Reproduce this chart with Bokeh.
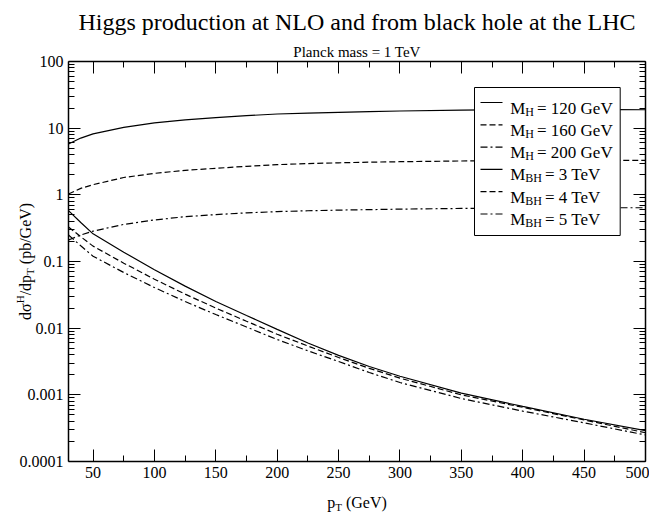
import math
from bokeh.plotting import figure
from bokeh.layouts import column
from bokeh.models import (Range1d, LogAxis, LinearAxis, FixedTicker, Label,
                          BoxAnnotation, Arrow, CustomJSTickFormatter)
from bokeh.embed import file_html
from bokeh.resources import INLINE

# ---------------- data ----------------
pt = [30, 40, 50, 75, 100, 125, 150, 175, 200, 225, 250, 275, 300, 350, 400, 450, 500]
higgs_mh120 = [5.8, 7.1, 8.2, 10.3, 12.0, 13.3, 14.4, 15.4, 16.3, 16.85, 17.3, 17.7, 18.1, 18.7, 19.0, 19.1, 18.9]
higgs_mh160 = [1.03, 1.25, 1.42, 1.82, 2.10, 2.33, 2.50, 2.68, 2.84, 2.94, 3.02, 3.09, 3.14, 3.22, 3.27, 3.29, 3.28]
higgs_mh200 = [0.21, 0.25, 0.285, 0.36, 0.42, 0.47, 0.505, 0.537, 0.56, 0.577, 0.59, 0.60, 0.61, 0.625, 0.635, 0.64, 0.64]
bh_3tev = [0.58, 0.385, 0.26, 0.138, 0.075, 0.0427, 0.0251, 0.0155, 0.0096, 0.0060, 0.0039, 0.00266, 0.0019, 0.00106, 0.00067, 0.00043, 0.00029]
bh_4tev = [0.33, 0.235, 0.17, 0.0944, 0.0543, 0.0324, 0.020, 0.0127, 0.0081, 0.0054, 0.00363, 0.0025, 0.00178, 0.0010, 0.00065, 0.00042, 0.00027]
bh_5tev = [0.25, 0.172, 0.12, 0.0684, 0.0407, 0.0251, 0.016, 0.0104, 0.00676, 0.00457, 0.00316, 0.00216, 0.00153, 0.00088, 0.00057, 0.00038, 0.00025]

x_major = [50, 100, 150, 200, 250, 300, 350, 400, 450, 500]
x_minor = [75, 125, 175, 225, 275, 325, 375, 425, 475]
y_major = [1e-4, 1e-3, 1e-2, 1e-1, 1.0, 10.0, 100.0]
y_labels = ["0.0001", "0.001", "0.01", "0.1", "1", "10", "100"]
y_minor = [m * 10.0 ** k for k in range(-4, 2) for m in range(2, 10)]

title_text = "Higgs production at NLO and from black hole at the LHC"
subtitle_text = "Planck mass = 1 TeV"
legend_entries = [("H", "= 120 GeV", "solid"), ("H", "= 160 GeV", "dashed"),
                  ("H", "= 200 GeV", "dashdot"), ("BH", "= 3 TeV", "solid"),
                  ("BH", "= 4 TeV", "dashed"), ("BH", "= 5 TeV", "dashdot")]

DASH = {"solid": "solid", "dashed": "6 3", "dashdot": "7 3 2 3"}
FONT = "Liberation Serif"

# Times metrics (1/1000 em)
W = {' ': 250, '(': 333, ')': 333, '/': 278, '=': 564, '.': 250,
     'B': 667, 'C': 667, 'G': 722, 'H': 722, 'L': 611, 'M': 889, 'N': 722,
     'O': 722, 'P': 556, 'T': 611, 'V': 722, 'a': 444, 'b': 500, 'c': 444,
     'd': 500, 'e': 444, 'f': 333, 'g': 500, 'h': 500, 'i': 278, 'k': 500,
     'l': 278, 'm': 778, 'n': 500, 'o': 500, 'p': 500, 'r': 333, 's': 389,
     't': 278, 'u': 500, 'σ': 550}


def tw(s, size):
    return sum(W.get(c, 500) for c in s) * size / 1000.0


TW, TH = 649, 513
BL, BR, BT, BB = 68, 4, 61, 52
FW, FH = TW - BL - BR, TH - BT - BB

# ---------------- main figure ----------------
p = figure(width=TW, height=TH, output_backend="svg", toolbar_location=None,
           title=None, y_axis_type="log",
           x_range=Range1d(30, 500), y_range=Range1d(1e-4, 100),
           min_border_left=BL, min_border_right=BR, min_border_top=BT,
           min_border_bottom=BB)
p.frame_align = False
p.grid.visible = False
p.outline_line_color = None
p.background_fill_color = "white"
p.border_fill_color = "white"

xt = FixedTicker(ticks=x_major, minor_ticks=x_minor)
yt = FixedTicker(ticks=y_major, minor_ticks=y_minor)

blank = CustomJSTickFormatter(code="return ''")
p.add_layout(LinearAxis(ticker=xt, formatter=blank), "above")
p.add_layout(LogAxis(ticker=yt, formatter=blank), "right")

for ax in p.xaxis:
    ax.ticker = xt
for ax in p.yaxis:
    ax.ticker = yt

for ax in list(p.xaxis) + list(p.yaxis):
    ax.major_tick_in = 12
    ax.major_tick_out = 0
    ax.minor_tick_in = 6
    ax.minor_tick_out = 0
    ax.axis_line_width = 1.5
    ax.axis_line_color = "black"
    ax.major_tick_line_color = "black"
    ax.minor_tick_line_color = "black"
    ax.major_tick_line_width = 1
    ax.minor_tick_line_width = 1
    ax.major_label_text_font = FONT
    ax.major_label_text_font_size = "16px"
    ax.major_label_text_color = "black"

p.below[0].major_label_standoff = 5
p.left[0].major_label_standoff = 5
p.left[0].major_label_overrides = {v: s for v, s in zip(y_major, y_labels)}
for ax in (p.above[0], p.right[0]):
    ax.major_label_standoff = 0

series = [(higgs_mh120, "solid"), (higgs_mh160, "dashed"), (higgs_mh200, "dashdot"),
          (bh_3tev, "solid"), (bh_4tev, "dashed"), (bh_5tev, "dashdot")]
for ys, st in series:
    p.line(pt, ys, line_color="black", line_width=1.2, line_dash=DASH[st])


def flab(x, y, text, size, align="left"):
    p.add_layout(Label(x=x, y=y, x_units="screen", y_units="screen", text=text,
                       text_font=FONT, text_font_size=f"{size}px",
                       text_color="black", text_align=align,
                       text_baseline="alphabetic"))


# legend (inside the frame, screen units relative to frame bottom-left)
LX0, LW = 406.0, 145.7
LTOP = FH - 26.0
p.add_layout(BoxAnnotation(left=LX0, right=LX0 + LW, top=LTOP, bottom=LTOP - 148.0,
                           left_units="screen", right_units="screen",
                           top_units="screen", bottom_units="screen",
                           fill_color="white", fill_alpha=1.0,
                           line_color="black", line_width=1, line_alpha=1.0))
lsz, ssz = 17, 12
for i, (sub, rest, st) in enumerate(legend_entries):
    yl = FH - 41.0 - 22.3 * i
    p.add_layout(Arrow(end=None, x_start=LX0 + 6, y_start=yl, x_end=LX0 + 28, y_end=yl,
                       start_units="screen", end_units="screen",
                       line_color="black", line_width=1.2, line_dash=DASH[st]))
    tx = LX0 + 35.7
    tb = yl - 5.5
    flab(tx, tb, "M", lsz)
    flab(tx + tw("M", lsz), tb - 3.5, sub, ssz)
    flab(tx + tw("M", lsz) + tw(sub, ssz) + 3, tb, rest, lsz)

# ---------------- transparent text overlay (page pixel coordinates) ----------------
ov = figure(width=TW, height=TH, output_backend="svg", toolbar_location=None,
            title=None, x_range=Range1d(0, TW), y_range=Range1d(TH, 0),
            x_axis_type=None, y_axis_type=None, min_border=0)
ov.frame_align = False
ov.min_border_left = 0
ov.min_border_right = 0
ov.min_border_top = 0
ov.min_border_bottom = 0
ov.grid.visible = False
ov.outline_line_color = None
ov.background_fill_alpha = 0
ov.border_fill_alpha = 0
ov.margin = (-TH, 0, 0, 0)


def olab(x, y, text, size, angle=0.0, align="left"):
    ov.add_layout(Label(x=x, y=y, text=text, text_font=FONT,
                        text_font_size=f"{size}px", text_color="black",
                        text_align=align, text_baseline="alphabetic", angle=angle))


cx = BL + FW / 2
cy = BT + FH / 2
olab(cx, 21, title_text, 24, align="center")
olab(cx, 51, subtitle_text, 15, align="center")

big, small = 16, 11
# x label: p_T (GeV)
wx = tw("p", big) + tw("T", small) + 4 + tw("(GeV)", big)
x0 = cx - wx / 2
yb = 502
olab(x0, yb, "p", big)
olab(x0 + tw("p", big), yb + 4, "T", small)
olab(x0 + tw("p", big) + tw("T", small) + 4, yb, "(GeV)", big)

# y label: dσ^H/dp_T (pb/GeV), rotated (reads bottom to top)
ang = math.pi / 2
wy = tw("dσ", big) + tw("H", small) + tw("/dp", big) + tw("T", small) + 4 + tw("(pb/GeV)", big)
yy = cy + wy / 2
bx = 25
olab(bx, yy, "dσ", big, ang)
yy -= tw("dσ", big)
olab(bx - 6, yy, "H", small, ang)
yy -= tw("H", small)
olab(bx, yy, "/dp", big, ang)
yy -= tw("/dp", big)
olab(bx + 4, yy, "T", small, ang)
yy -= tw("T", small) + 4
olab(bx, yy, "(pb/GeV)", big, ang)

layout = column(p, ov)
open("out.html", "w").write(file_html(layout, INLINE))
